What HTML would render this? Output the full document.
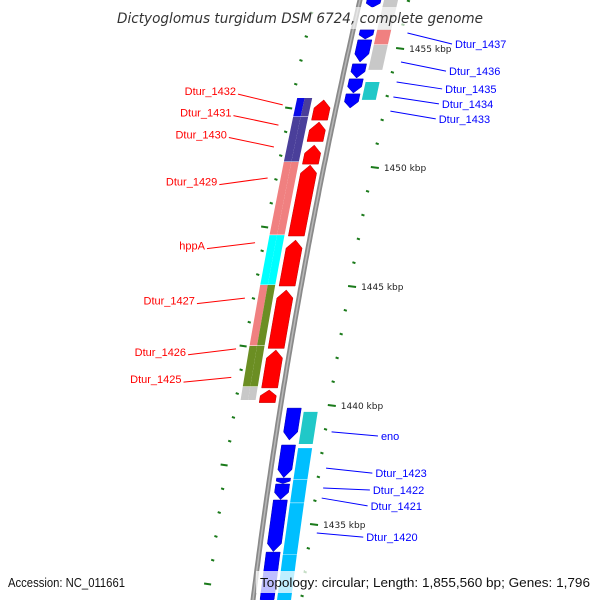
<!DOCTYPE html>
<html><head><meta charset="utf-8"><style>
html,body{margin:0;padding:0;background:#fff;overflow:hidden;width:600px;height:600px}
svg{display:block;overflow:hidden}
text{font-family:"DejaVu Sans","Liberation Sans",sans-serif}
.lab{font-family:"Liberation Sans",sans-serif}
</style></head><body>
<svg id="map" width="600" height="600" viewBox="0 0 600 600" xmlns="http://www.w3.org/2000/svg">
<g id="ticks"></g>
<path id="backbone" fill="none" stroke="#8a8a8a" stroke-width="5"/>
<path id="backbone2" fill="none" stroke="#b8b8b8" stroke-width="1.5"/>
<g id="feats"></g>
<g id="labels"></g>
<rect x="112" y="7" width="376" height="22" fill="#fff" opacity="0.65"/>
<text x="117" y="23" textLength="366" lengthAdjust="spacingAndGlyphs" font-size="14.5" font-style="italic" fill="#333">Dictyoglomus turgidum DSM 6724, complete genome</text>
<text class="lab" x="8" y="587" textLength="117" lengthAdjust="spacingAndGlyphs" font-size="13" fill="#111">Accession: NC_011661</text>
<rect x="256" y="571" width="340" height="22" fill="#fff" opacity="0.75"/>
<text class="lab" x="260" y="587" textLength="330" lengthAdjust="spacingAndGlyphs" font-size="13" fill="#111">Topology: circular; Length: 1,855,560 bp; Genes: 1,796</text>
</svg>
<script>
function bx(y){return 360-0.2313*y+0.0000883*y*y;}
function yOf(k){return 48+(1455-k)*23.8;}
const NS="http://www.w3.org/2000/svg";
function mk(tag,attrs,parent){const e=document.createElementNS(NS,tag);for(const k in attrs)e.setAttribute(k,attrs[k]);parent.appendChild(e);return e;}

const fwdArrowStart=[1452.82,1451.89,1450.92,1450.08,1446.93,1444.83,1442.31,1440.63];
const fwdArrowEnd  =[1451.97,1451.07,1450.12,1447.10,1445.00,1442.38,1440.72,1440.10];
const leftBlockStart=[1452.90,1452.10,1450.21,1447.14,1445.04,1442.48,1440.76];
const leftBlockEnd  =[1452.12,1450.23,1447.16,1445.06,1442.50,1440.78,1440.21];
const leftBlockColL =["#0a0ae8","#4a3f9a","#f08080","#00ffff","#f08080","#6b8e23","#c8c8c8"];
const leftBlockColR =["#4a3f9a","#4a3f9a","#f08080","#00ffff","#6b8e23","#6b8e23","#c8c8c8"];
const revStart=[1457.10,1455.76,1455.34,1454.33,1453.70,1453.07,1439.87,1438.32,1436.93,1436.68,1436.01,1433.82];
const revEnd  =[1456.70,1455.38,1454.41,1453.74,1453.11,1452.48,1438.53,1436.95,1436.70,1436.03,1433.84,1431.50];
const rightBlockStart=[1457.10,1455.76,1455.13,1453.57,1439.71,1438.19,1436.85,1435.88,1433.70];
const rightBlockEnd  =[1455.78,1455.15,1454.08,1452.82,1438.36,1436.87,1435.90,1433.72,1431.50];
const rightBlockCol  =["#c8c8c8","#f08080","#c8c8c8","#20c8c8","#20c8c8","#00bfff","#00bfff","#00bfff","#00bfff"];
const majorTicks=[1455,1450,1445,1440,1435];
const leftNames=["Dtur_1432","Dtur_1431","Dtur_1430","Dtur_1429","hppA","Dtur_1427","Dtur_1426","Dtur_1425"];
const leftLabelK=[1453.06,1452.16,1451.24,1449.26,1446.57,1444.26,1442.11,1440.96];
const leftTargetK=[1452.61,1451.76,1450.84,1449.54,1446.82,1444.49,1442.36,1441.16];
const rightNames=["Dtur_1437","Dtur_1436","Dtur_1435","Dtur_1434","Dtur_1433","eno","Dtur_1423","Dtur_1422","Dtur_1421","Dtur_1420"];
const rightLabelK=[1455.17,1454.03,1453.28,1452.65,1452.02,1438.70,1437.14,1436.43,1435.76,1434.45];
const rightTargetK=[1455.63,1454.41,1453.57,1452.94,1452.35,1438.87,1437.35,1436.51,1436.09,1434.62];

let d="";for(let y=-5;y<=605;y+=5){d+=(y<0?"M":"L")+bx(y).toFixed(1)+","+y;}
document.getElementById('backbone').setAttribute('d',d);
document.getElementById('backbone2').setAttribute('d',d);

const tg=document.getElementById('ticks');
for(let k=1458;k>=1430;k-=1){
  const y=yOf(k);const x=bx(y)+47;
  const major=majorTicks.indexOf(k)>=0;
  const t=mk('line',{x1:x,y1:y,x2:x+(major?8:3),y2:y+1,stroke:'#1a7a1a','stroke-width':2},tg);
  
  
  if(major){const lb=mk('text',{x:x+13,y:y+4,'font-size':9,fill:'#222'},tg);lb.textContent=k+' kbp';
    
    }
  const y2=yOf(k-0.5);const x2=bx(y2)-44;const half=((k*2-1)%5===0);
  const t2=mk('line',{x1:x2-(half?7:3),y1:y2,x2:x2,y2:y2+1,stroke:'#1a7a1a','stroke-width':2},tg);
  
  
}

const fg=document.getElementById('feats');
function quad(y1,y2,o1,o2){return [[bx(y1)+o1,y1],[bx(y1)+o2,y1],[bx(y2)+o2,y2],[bx(y2)+o1,y2]];}
function pts(a){return a.map(p=>p[0].toFixed(1)+","+p[1].toFixed(1)).join(" ");}
function arrow(yTop,yBot,o1,o2,up){
  const h=Math.min(8,(yBot-yTop)*0.45);const om=(o1+o2)/2;
  if(up){return [[bx(yTop)+om,yTop],[bx(yTop+h)+o2,yTop+h],[bx(yBot)+o2,yBot],[bx(yBot)+o1,yBot],[bx(yTop+h)+o1,yTop+h]];}
  return [[bx(yTop)+o1,yTop],[bx(yTop)+o2,yTop],[bx(yBot-h)+o2,yBot-h],[bx(yBot)+om,yBot],[bx(yBot-h)+o1,yBot-h]];
}
for(let i=0;i<leftBlockStart.length;i++){
  const y1=yOf(leftBlockStart[i]),y2=yOf(leftBlockEnd[i]);
  const a=mk('polygon',{points:pts(quad(y1,y2,-41,-33.5)),fill:leftBlockColL[i]},fg);
  
  
  const b=mk('polygon',{points:pts(quad(y1,y2,-33.5,-26)),fill:leftBlockColR[i]},fg);
  
  
}
for(let i=0;i<fwdArrowStart.length;i++){
  const y1=yOf(fwdArrowStart[i]),y2=yOf(fwdArrowEnd[i]);
  const p=mk('polygon',{points:pts(arrow(y1,y2,-22,-6,true)),fill:'#ff0000',stroke:'#c00000','stroke-width':0.5},fg);
  
  
}
for(let i=0;i<rightBlockStart.length;i++){
  const y1=yOf(rightBlockStart[i]),y2=yOf(rightBlockEnd[i]);
  const p=mk('polygon',{points:pts(quad(y1,y2,24,38)),fill:rightBlockCol[i]},fg);
  
  
}
for(let i=0;i<revStart.length;i++){
  const y1=yOf(revStart[i]),y2=yOf(revEnd[i]);
  const p=mk('polygon',{points:pts(arrow(y1,y2,7,21,false)),fill:'#0000ff',stroke:'#0000b0','stroke-width':0.5},fg);
  
  
}
const lg=document.getElementById('labels');
for(let i=0;i<leftNames.length;i++){
  const ly=yOf(leftLabelK[i]),ty=yOf(leftTargetK[i]);
  const lx=bx(ly)-101, tx=bx(ty)-54;
  const l=mk('line',{x1:lx,y1:ly,x2:tx,y2:ty,stroke:'#ff0000','stroke-width':1},lg);
  
  
  const t=mk('text',{x:lx-2,y:ly+1,'font-size':11,fill:'#ff0000','text-anchor':'end','class':'lab'},lg);t.textContent=leftNames[i];
  
  
}
for(let i=0;i<rightNames.length;i++){
  const ly=yOf(rightLabelK[i]),ty=yOf(rightTargetK[i]);
  const lx=bx(ly)+102, tx=bx(ty)+55;
  const l=mk('line',{x1:tx,y1:ty,x2:lx,y2:ly,stroke:'#0000ff','stroke-width':1},lg);
  
  
  const t=mk('text',{x:lx+3,y:ly+4,'font-size':11,fill:'#0000ff','class':'lab'},lg);t.textContent=rightNames[i];
  
  
}
</script>
</body></html>
